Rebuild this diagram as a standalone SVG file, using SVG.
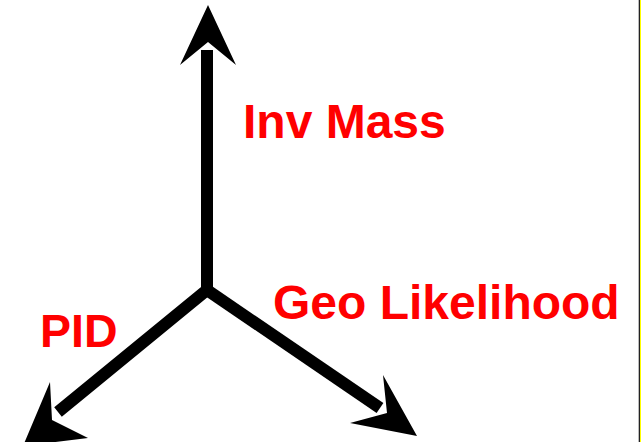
<svg xmlns="http://www.w3.org/2000/svg" width="641" height="442" viewBox="0 0 641 442">
<style>
.shaft{fill:none;stroke:#000;stroke-width:12;stroke-linejoin:miter;stroke-linecap:butt}
.head{fill:#000}
.lbl{font-family:"Liberation Sans",Arial,sans-serif;font-weight:bold;fill:#f00}
</style>
<rect width="641" height="442" fill="#fff"/>
<line x1="638.5" y1="0" x2="638.5" y2="442" stroke="#bbb" stroke-width="1"/>
<line x1="639.5" y1="0" x2="639.5" y2="442" stroke="#222" stroke-width="1"/>
<line x1="640.5" y1="0" x2="640.5" y2="442" stroke="#ff0" stroke-width="1"/>
<g id="connectors">
<polyline class="shaft" points="58,412 207,290 207,50"/>
<polyline class="shaft" points="207,290 380,408"/>
<polygon class="head" points="208,5 236,65 208,42 180,65"/>
<polygon class="head" points="23,446 50,382 52,420 88,438"/>
<polygon class="head" points="417,436 350,423 387,413 383,375"/>
</g>
<g id="inv-mass"><text class="lbl" x="243" y="138" font-size="48">Inv Mass</text></g>
<g id="geo-likelihood"><text class="lbl" x="273" y="319" font-size="48">Geo Likelihood</text></g>
<g id="pid"><text class="lbl" x="40" y="347" font-size="46.5">PID</text></g>
</svg>
